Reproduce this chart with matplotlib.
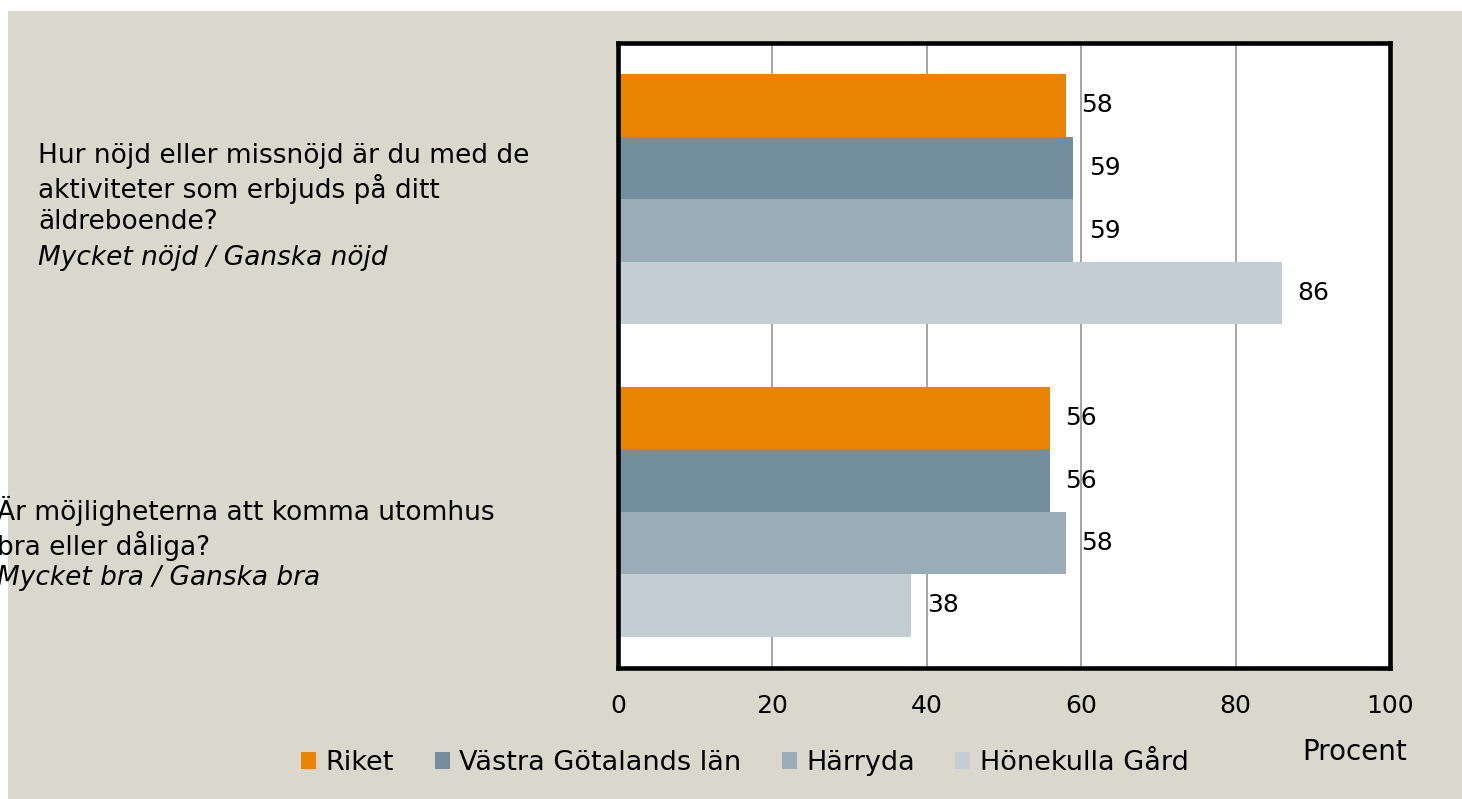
import matplotlib.pyplot as plt
from matplotlib.patches import Rectangle, Patch

# Data
questions = [
    "Hur nöjd eller missnöjd är du med de\naktiviteter som erbjuds på ditt\näldreboende?",
    "Är möjligheterna att komma utomhus\nbra eller dåliga?",
]
answers = ["Mycket nöjd / Ganska nöjd", "Mycket bra / Ganska bra"]
series = ["Riket", "Västra Götalands län", "Härryda", "Hönekulla Gård"]
riket = [58, 56]
vastra_gotaland = [59, 56]
harryda = [59, 58]
honekulla = [86, 38]
values = [riket, vastra_gotaland, harryda, honekulla]
colors = ["#E98300", "#738F9D", "#99ACB7", "#C3CDD4"]
x_ticks = [0, 20, 40, 60, 80, 100]

W, H = 1462, 799
plt.rcParams['font.family'] = ['DejaVu Sans']
FS = 18

fig = plt.figure(figsize=(W / 100, H / 100), dpi=100, facecolor="white")

# beige panel behind everything
fig.patches.append(Rectangle((8 / W, 0), 1 - 8 / W, (H - 11) / H,
                             transform=fig.transFigure, facecolor="#DAD8CC",
                             edgecolor="none", zorder=-10))

left, right, top, bottom = 618, 1390, 43, 668
ax = fig.add_axes([left / W, (H - bottom) / H, (right - left) / W, (bottom - top) / H])
ax.set_facecolor("white")

bar_h = 0.2
for i, (name, vals, col) in enumerate(zip(series, values, colors)):
    ypos = [k - 0.3 + i * bar_h for k in range(len(questions))]
    bars = ax.barh(ypos, vals, height=bar_h, color=col, zorder=3, label=name)
    ax.bar_label(bars, padding=11, fontsize=FS, color="black")

ax.set_xlim(0, 100)
ax.set_ylim(len(questions) - 0.5, -0.5)
ax.set_xticks(x_ticks)
ax.set_yticks([])
ax.tick_params(axis="x", length=0, pad=19, labelsize=FS)
ax.grid(axis="x", color="#8C8C8C", linewidth=1.1, zorder=0)
for sp in ax.spines.values():
    sp.set_linewidth(3.3)
    sp.set_color("black")
    sp.set_zorder(5)

# category labels (question text, then italic answer line)
LFS = 19
label_pos = [(38, 158), (-3, 511)]
for (px, py), q, a in zip(label_pos, questions, answers):
    n = q.count("\n") + 1
    fig.text(px / W, 1 - (py - 15) / H, q, ha="left", va="top", fontsize=LFS,
             linespacing=1.22)
    fig.text(px / W, 1 - (py + n * 33 + 1) / H, a, ha="left", va="center",
             fontsize=LFS, style="italic")

fig.text(1355 / W, 1 - 752 / H, "Procent", ha="center", va="center", fontsize=20)

handles = [Patch(facecolor=c, edgecolor="none") for c in colors]
fig.legend(handles, series, loc="center", bbox_to_anchor=(745 / W, 1 - 763 / H),
           ncol=4, frameon=False, fontsize=19.5, handlelength=0.55, handleheight=0.55,
           handletextpad=0.35, columnspacing=1.5)

fig.savefig("out.png", dpi=100, facecolor=fig.get_facecolor())
